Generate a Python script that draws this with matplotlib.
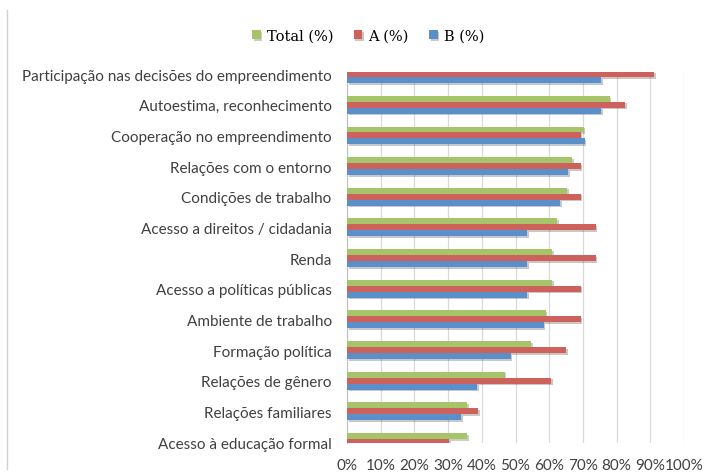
import numpy as np
import matplotlib
matplotlib.use('Agg')
import matplotlib.pyplot as plt
import matplotlib.patheffects as pe

# Categories, top to bottom
categories = [
    'Participação nas decisões do empreendimento',
    'Autoestima, reconhecimento',
    'Cooperação no empreendimento',
    'Relações com o entorno',
    'Condições de trabalho',
    'Acesso a direitos / cidadania',
    'Renda',
    'Acesso a políticas públicas',
    'Ambiente de trabalho',
    'Formação política',
    'Relações de gênero',
    'Relações familiares',
    'Acesso à educação formal',
]

# Values in % (nan = hidden by the plot edge)
total_pct = [np.nan, 77.9, 70.2, 66.8, 65.3, 62.4, 60.9, 60.9, 59.0, 54.6, 46.8, 35.6, 35.6]
a_pct = [91.1, 82.5, 69.3, 69.3, 69.3, 73.8, 73.8, 69.3, 69.3, 65.0, 60.5, 38.9, 30.3]
b_pct = [75.5, 75.5, 70.5, 65.6, 63.3, 53.4, 53.4, 53.4, 58.4, 48.6, 38.7, 33.9, np.nan]

series_names = ['Total (%)', 'A (%)', 'B (%)']
colors = ['#a6c46a', '#cc625b', '#5b8fc9']

fig = plt.figure(figsize=(7.15, 4.77), dpi=100)
ax = fig.add_axes([347 / 715, 1 - 444 / 477, 337 / 715, 371 / 477])

y = np.arange(len(categories))
h = 0.195
shadow = [pe.SimplePatchShadow(offset=(1.2, -1.2), alpha=0.25), pe.Normal()]

bars = []
for k, (vals, name, col) in enumerate(zip([total_pct, a_pct, b_pct], series_names, colors)):
    b = ax.barh(y + (k - 1) * h, vals, height=h, color=col, label=name, zorder=3)
    for p in b.patches:
        p.set_path_effects(shadow)
    bars.append(b)

ax.set_xlim(0, 100)
ax.set_ylim(12.03, -0.07)
ax.set_xticks(np.arange(0, 101, 10))
ax.set_xticklabels([f'{v}%' for v in range(0, 101, 10)])
ax.set_yticks(y)
ax.set_yticklabels(categories)

ax.grid(axis='x', color='#d9d9d9', linewidth=0.9, zorder=0)
for s in ['top', 'right', 'bottom']:
    ax.spines[s].set_visible(False)
ax.spines['left'].set_color('#bfbfbf')
ax.tick_params(length=0, colors='#404040', labelsize=11)
ax.tick_params(axis='y', pad=11)
ax.tick_params(axis='x', pad=11)
for t in ax.get_xticklabels() + ax.get_yticklabels():
    t.set_family('Lato')

fig.legend(handles=bars, labels=series_names, loc='center', ncol=3,
           bbox_to_anchor=(368 / 715, 1 - 37 / 477), frameon=False,
           prop={'family': 'DejaVu Serif', 'size': 10.5},
           handlelength=0.6, handleheight=0.6, handletextpad=0.4, columnspacing=1.4)

# thin grey border on the left, as in the source image
fig.add_artist(plt.Line2D([7 / 715, 7 / 715], [1 - 470 / 477, 1 - 11 / 477],
                          color='#d0d0d0', linewidth=1.0))

fig.savefig('out.png', dpi=100, facecolor='white')
